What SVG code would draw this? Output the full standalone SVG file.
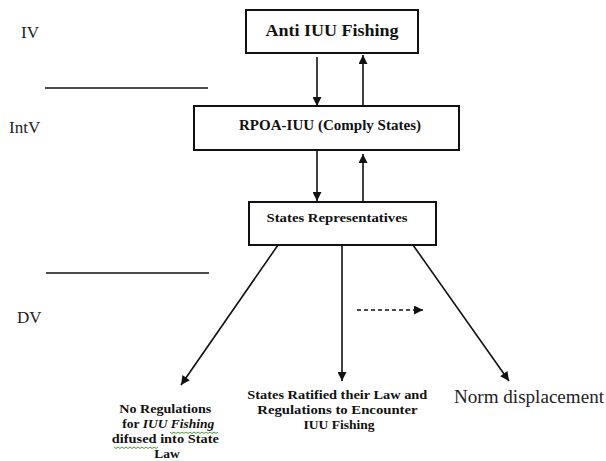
<svg xmlns="http://www.w3.org/2000/svg" width="606" height="461" viewBox="0 0 606 461">
<style>
.box{fill:#fff;stroke:#111;stroke-width:2}
.ln{stroke:#111;stroke-width:1.6;fill:none}
.lab{font-family:"Liberation Serif",serif;font-size:17px;fill:#222}
.bt{font-family:"Liberation Serif",serif;font-weight:bold;fill:#111;text-anchor:middle}
.sq{stroke:#4a9a3a;stroke-width:1;fill:none}
</style>
<defs>
<marker id="ah" viewBox="0 0 10 10" refX="10" refY="5" markerWidth="10" markerHeight="9" markerUnits="userSpaceOnUse" orient="auto">
<path d="M0,0 L10,5 L0,10 z" fill="#111"/>
</marker>
</defs>
<rect width="606" height="461" fill="#fff"/>
<g id="levels">
<text class="lab" x="21" y="38">IV</text>
<text class="lab" x="9" y="133">IntV</text>
<text class="lab" x="17" y="323">DV</text>
<line class="ln" x1="45" y1="88" x2="208" y2="88"/>
<line class="ln" x1="46" y1="273" x2="209" y2="273"/>
</g>
<g id="connectors">
<line class="ln" x1="317" y1="57" x2="317" y2="106" marker-end="url(#ah)"/>
<line class="ln" x1="363" y1="106" x2="363" y2="55" marker-end="url(#ah)"/>
<line class="ln" x1="317" y1="150" x2="317" y2="201" marker-end="url(#ah)"/>
<line class="ln" x1="363" y1="201" x2="363" y2="154" marker-end="url(#ah)"/>
<line class="ln" x1="278" y1="245" x2="181" y2="385" marker-end="url(#ah)"/>
<line class="ln" x1="342" y1="245" x2="342" y2="381" marker-end="url(#ah)"/>
<line class="ln" x1="413" y1="245" x2="509" y2="381" marker-end="url(#ah)"/>
<line class="ln" x1="357" y1="310" x2="423" y2="310" stroke-dasharray="4,3" marker-end="url(#ah)"/>
</g>
<g id="anti-iuu">
<rect class="box" x="246" y="10" width="172" height="43"/>
<text class="bt" x="332" y="36" font-size="16" textLength="133" lengthAdjust="spacingAndGlyphs">Anti IUU Fishing</text>
</g>
<g id="rpoa">
<rect class="box" x="194" y="106" width="265" height="44"/>
<text class="bt" x="330" y="130" font-size="14" textLength="182" lengthAdjust="spacingAndGlyphs">RPOA-IUU (Comply States)</text>
</g>
<g id="states-rep">
<rect class="box" x="249" y="202" width="187" height="43"/>
<text class="bt" x="337" y="222" font-size="13" textLength="141" lengthAdjust="spacingAndGlyphs">States Representatives</text>
</g>
<g id="no-regulations">
<text class="bt" font-size="13.5">
<tspan x="167" y="413" textLength="92" lengthAdjust="spacingAndGlyphs">No Regulations</tspan>
<tspan x="170" y="428">for <tspan font-style="italic">IUU Fishing</tspan></tspan>
<tspan x="167" y="443" textLength="107" lengthAdjust="spacingAndGlyphs">difused into State</tspan>
<tspan x="167" y="458">Law</tspan>
</text>
<path class="sq" d="M170,432 l2,1.5 l2,-1.5 l2,1.5 l2,-1.5 l2,1.5 l2,-1.5 l2,1.5 l2,-1.5 l2,1.5 l2,-1.5 l2,1.5 l2,-1.5 l2,1.5 l2,-1.5 l2,1.5 l2,-1.5 l2,1.5 l2,-1.5 l2,1.5 l2,-1.5 l2,1.5 l2,-1.5 l2,1.5 l2,-1.5"/>
<path class="sq" d="M114,447 l2,1.5 l2,-1.5 l2,1.5 l2,-1.5 l2,1.5 l2,-1.5 l2,1.5 l2,-1.5 l2,1.5 l2,-1.5 l2,1.5 l2,-1.5 l2,1.5 l2,-1.5 l2,1.5 l2,-1.5 l2,1.5 l2,-1.5 l2,1.5 l2,-1.5 l2,1.5 l2,-1.5"/>
</g>
<g id="ratified">
<text class="bt" font-size="13.5">
<tspan x="339" y="399" textLength="180" lengthAdjust="spacingAndGlyphs">States Ratified their Law and</tspan>
<tspan x="339" y="414" textLength="160" lengthAdjust="spacingAndGlyphs">Regulations to Encounter</tspan>
<tspan x="339" y="429">IUU Fishing</tspan>
</text>
</g>
<g id="norm">
<text x="454" y="403" font-family="Liberation Serif, serif" font-size="18" fill="#222" textLength="150" lengthAdjust="spacingAndGlyphs">Norm displacement</text>
</g>
</svg>
